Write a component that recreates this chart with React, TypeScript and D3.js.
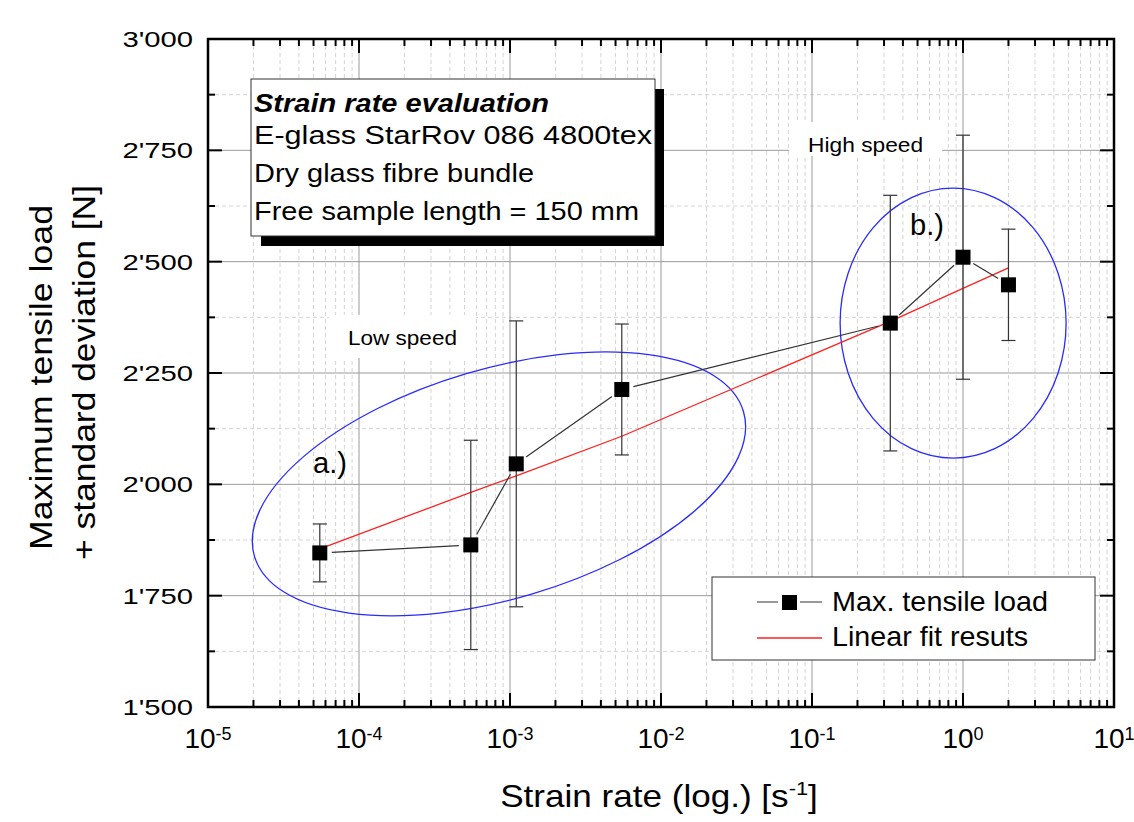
import React, { useRef, useEffect } from 'react';
import * as d3 from 'd3';

// strain rate [1/s] and max. tensile load [N]
const strainRates = [5.5e-5, 5.5e-4, 1.1e-3, 5.5e-3, 0.33, 1, 2];
const maxLoads = [1846, 1864, 2046, 2213, 2362, 2510, 2448];
const loadStdDevs = [65, 235, 321, 147, 287, 274, 125];
// linear fit curve values at the same strain rates
const fitLoads = [1855, 1982, 2019, 2108, 2366, 2440, 2486];

const xDomain = [1e-5, 10];
const yDomain = [1500, 3000];

const infoTitle = 'Strain rate evaluation';
const infoLines = ['E-glass StarRov 086 4800tex', 'Dry glass fibre bundle', 'Free sample length = 150 mm'];
const legendLabels = ['Max. tensile load', 'Linear fit resuts'];

// grouping ellipses (centre in data units)
const groups = [
  { label: 'a.)', cx: 8.45e-4, cy: 2001, labelX: 4.96e-5, labelY: 2025 },
  { label: 'b.)', cx: 0.86, cy: 2362, labelX: 0.446, labelY: 2560 },
];
const speedLabels = [
  { text: 'Low speed', x: 8.45e-5, y: 2313 },
  { text: 'High speed', x: 0.0942, y: 2746 },
];

const W = 1134;
const H = 822;
const FONT = '"Liberation Sans", Arial, sans-serif';

const App = () => {
  const svgRef = useRef<SVGSVGElement>(null);

  useEffect(() => {
    if (!svgRef.current) return;
    const svg = d3.select(svgRef.current);
    svg.selectAll('*').remove();

    const x = d3.scaleLog().domain(xDomain).range([208, 1114]);
    const y = d3.scaleLinear().domain(yDomain).range([707, 39]);
    const [xl, xr] = x.range();
    const [yb, yt] = y.range();

    svg.append('rect').attr('width', W).attr('height', H).attr('fill', '#fff');

    const isDecade = (t: number) => Math.abs(Math.log10(t) - Math.round(Math.log10(t))) < 1e-9;
    const xTicks = x.ticks();
    const yTicks = d3.range(yDomain[0], yDomain[1] + 1, 125);
    const isYMajor = (v: number) => v % 250 === 0;

    // grid
    const grid = svg.append('g');
    xTicks.filter(t => !isDecade(t)).forEach(t => {
      grid.append('line').attr('x1', x(t)).attr('x2', x(t)).attr('y1', yt).attr('y2', yb)
        .attr('stroke', '#d4d4d4').attr('stroke-dasharray', '4,3');
    });
    yTicks.filter(v => !isYMajor(v)).forEach(v => {
      grid.append('line').attr('x1', xl).attr('x2', xr).attr('y1', y(v)).attr('y2', y(v))
        .attr('stroke', '#d4d4d4').attr('stroke-dasharray', '4,3');
    });
    xTicks.filter(t => isDecade(t) && t > xDomain[0] && t < xDomain[1]).forEach(t => {
      grid.append('line').attr('x1', x(t)).attr('x2', x(t)).attr('y1', yt).attr('y2', yb)
        .attr('stroke', '#9a9a9a').attr('stroke-width', 1);
    });
    yTicks.filter(v => isYMajor(v) && v > yDomain[0] && v < yDomain[1]).forEach(v => {
      grid.append('line').attr('x1', xl).attr('x2', xr).attr('y1', y(v)).attr('y2', y(v))
        .attr('stroke', '#9a9a9a').attr('stroke-width', 1);
    });

    // speed labels with white background
    speedLabels.forEach(s => {
      const px = x(s.x);
      const py = y(s.y);
      const len = s.text === 'Low speed' ? 109 : 115;
      svg.append('rect').attr('x', px - 19).attr('y', py - 30).attr('width', len + 38).attr('height', py > 300 ? 43 : 22 + 12)
        .attr('fill', '#fff');
      svg.append('text').attr('x', px).attr('y', py)
        .attr('font-family', FONT).attr('font-size', 21)
        .attr('textLength', len).attr('lengthAdjust', 'spacingAndGlyphs')
        .text(s.text);
    });

    // ellipses
    const ellipseShape = [
      { rx: 255, ry: 115, angle: -16.5 },
      { rx: 113, ry: 135, angle: 0 },
    ];
    groups.forEach((g, i) => {
      const e = ellipseShape[i];
      svg.append('ellipse')
        .attr('transform', `translate(${x(g.cx)},${y(g.cy)}) rotate(${e.angle})`)
        .attr('rx', e.rx).attr('ry', e.ry)
        .attr('fill', 'none').attr('stroke', '#2a2aff').attr('stroke-width', 1.3);
      svg.append('text').attr('x', x(g.labelX)).attr('y', y(g.labelY))
        .attr('font-family', FONT).attr('font-size', 30)
        .attr('textLength', 34).attr('lengthAdjust', 'spacingAndGlyphs')
        .text(g.label);
    });

    // linear fit
    const fitLine = d3.line<number>()
      .x((d, i) => x(strainRates[i]))
      .y(d => y(d));
    svg.append('path').attr('d', fitLine(fitLoads))
      .attr('fill', 'none').attr('stroke', '#ff2020').attr('stroke-width', 1.3);

    // data line with gaps at the markers
    const pts = strainRates.map((r, i) => [x(r), y(maxLoads[i])]);
    const gap = 12;
    for (let i = 0; i < pts.length - 1; i++) {
      const [ax, ay] = pts[i];
      const [bx, by] = pts[i + 1];
      const len = Math.hypot(bx - ax, by - ay);
      const ux = (bx - ax) / len;
      const uy = (by - ay) / len;
      svg.append('line')
        .attr('x1', ax + ux * gap).attr('y1', ay + uy * gap)
        .attr('x2', bx - ux * gap).attr('y2', by - uy * gap)
        .attr('stroke', '#333').attr('stroke-width', 1.2);
    }

    // error bars
    strainRates.forEach((r, i) => {
      const cx = x(r);
      const top = y(maxLoads[i] + loadStdDevs[i]);
      const bot = y(maxLoads[i] - loadStdDevs[i]);
      svg.append('line').attr('x1', cx).attr('x2', cx).attr('y1', top).attr('y2', bot)
        .attr('stroke', '#333').attr('stroke-width', 1.2);
      [top, bot].forEach(yy => {
        svg.append('line').attr('x1', cx - 7).attr('x2', cx + 7).attr('y1', yy).attr('y2', yy)
          .attr('stroke', '#333').attr('stroke-width', 1.2);
      });
    });

    // markers
    svg.selectAll('.marker')
      .data(strainRates)
      .enter()
      .append('rect')
      .attr('class', 'marker')
      .attr('x', (d) => x(d) - 7.5)
      .attr('y', (d, i) => y(maxLoads[i]) - 7.5)
      .attr('width', 15).attr('height', 15)
      .attr('fill', '#000');

    // info box with shadow
    svg.append('rect').attr('x', 261).attr('y', 89).attr('width', 403).attr('height', 157).attr('fill', '#000');
    svg.append('rect').attr('x', 251).attr('y', 79).attr('width', 404).attr('height', 157)
      .attr('fill', '#fff').attr('stroke', '#333').attr('stroke-width', 1);
    svg.append('text').attr('x', 254).attr('y', 112)
      .attr('font-family', FONT).attr('font-size', 26.5).attr('font-weight', 'bold').attr('font-style', 'italic')
      .attr('textLength', 295).attr('lengthAdjust', 'spacingAndGlyphs')
      .text(infoTitle);
    const infoBase = [144, 181.5, 220];
    const infoLen = [398, 280, 385];
    infoLines.forEach((t, i) => {
      svg.append('text').attr('x', 254).attr('y', infoBase[i])
        .attr('font-family', FONT).attr('font-size', 25)
        .attr('textLength', infoLen[i]).attr('lengthAdjust', 'spacingAndGlyphs')
        .text(t);
    });

    // legend
    svg.append('rect').attr('x', 712).attr('y', 577).attr('width', 383).attr('height', 83)
      .attr('fill', '#fff').attr('stroke', '#333').attr('stroke-width', 1);
    svg.append('line').attr('x1', 757).attr('x2', 778).attr('y1', 602).attr('y2', 602).attr('stroke', '#555').attr('stroke-width', 1.2);
    svg.append('line').attr('x1', 800).attr('x2', 822).attr('y1', 602).attr('y2', 602).attr('stroke', '#555').attr('stroke-width', 1.2);
    svg.append('rect').attr('x', 782).attr('y', 595).attr('width', 15).attr('height', 15).attr('fill', '#000');
    svg.append('line').attr('x1', 757).attr('x2', 822).attr('y1', 638).attr('y2', 638).attr('stroke', '#ff2020').attr('stroke-width', 1.3);
    const legBase = [611, 646];
    const legLen = [216, 196];
    legendLabels.forEach((t, i) => {
      svg.append('text').attr('x', 832).attr('y', legBase[i])
        .attr('font-family', FONT).attr('font-size', 28)
        .attr('textLength', legLen[i]).attr('lengthAdjust', 'spacingAndGlyphs')
        .text(t);
    });

    // axis frame and ticks
    const axes = svg.append('g');
    axes.append('rect').attr('x', xl).attr('y', yt).attr('width', xr - xl).attr('height', yb - yt)
      .attr('fill', 'none').attr('stroke', '#000').attr('stroke-width', 2.5);
    xTicks.filter(t => t > xDomain[0] && t < xDomain[1]).forEach(t => {
      const len = isDecade(t) ? 14 : 7;
      axes.append('line').attr('x1', x(t)).attr('x2', x(t)).attr('y1', yb).attr('y2', yb - len).attr('stroke', '#000').attr('stroke-width', 2);
      axes.append('line').attr('x1', x(t)).attr('x2', x(t)).attr('y1', yt).attr('y2', yt + len).attr('stroke', '#000').attr('stroke-width', 2);
    });
    yTicks.filter(v => v > yDomain[0] && v < yDomain[1]).forEach(v => {
      const len = isYMajor(v) ? 14 : 7;
      axes.append('line').attr('x1', xl).attr('x2', xl + len).attr('y1', y(v)).attr('y2', y(v)).attr('stroke', '#000').attr('stroke-width', 2);
      axes.append('line').attr('x1', xr).attr('x2', xr - len).attr('y1', y(v)).attr('y2', y(v)).attr('stroke', '#000').attr('stroke-width', 2);
    });

    // tick labels
    const fmt = d3.formatLocale({ thousands: "'", grouping: [3], decimal: '.', currency: ['', ''] }).format(',');
    yTicks.filter(isYMajor).forEach(v => {
      axes.append('text')
        .attr('transform', `translate(193,${y(v) + 8}) scale(1.3,1)`)
        .attr('text-anchor', 'end')
        .attr('font-family', FONT).attr('font-size', 22.5)
        .text(fmt(v));
    });
    xTicks.filter(isDecade).forEach(t => {
      const tx = axes.append('text')
        .attr('x', x(t)).attr('y', 748)
        .attr('text-anchor', 'middle')
        .attr('font-family', FONT).attr('font-size', 28);
      tx.append('tspan').text('10');
      tx.append('tspan').attr('dy', -8).attr('font-size', 18).text(String(Math.round(Math.log10(t))));
    });

    // axis titles
    const xt = svg.append('text')
      .attr('transform', `translate(659,807) scale(1.15,1)`)
      .attr('text-anchor', 'middle')
      .attr('font-family', FONT).attr('font-size', 30.5);
    xt.append('tspan').text('Strain rate (log.) [s');
    xt.append('tspan').attr('dy', -12).attr('font-size', 19).text('-1');
    xt.append('tspan').attr('dy', 12).text(']');

    svg.append('text')
      .attr('transform', 'translate(52,377.5) rotate(-90)')
      .attr('text-anchor', 'middle')
      .attr('font-family', FONT).attr('font-size', 30.5)
      .attr('textLength', 345).attr('lengthAdjust', 'spacingAndGlyphs')
      .text('Maximum tensile load');
    svg.append('text')
      .attr('transform', 'translate(95,372.5) rotate(-90)')
      .attr('text-anchor', 'middle')
      .attr('font-family', FONT).attr('font-size', 30.5)
      .attr('textLength', 375).attr('lengthAdjust', 'spacingAndGlyphs')
      .text('+ standard deviation [N]');
  }, []);

  return (
    <svg ref={svgRef} width={W} height={H} style={{ position: 'absolute', left: 0, top: 0 }}></svg>
  );
};

export default App;
